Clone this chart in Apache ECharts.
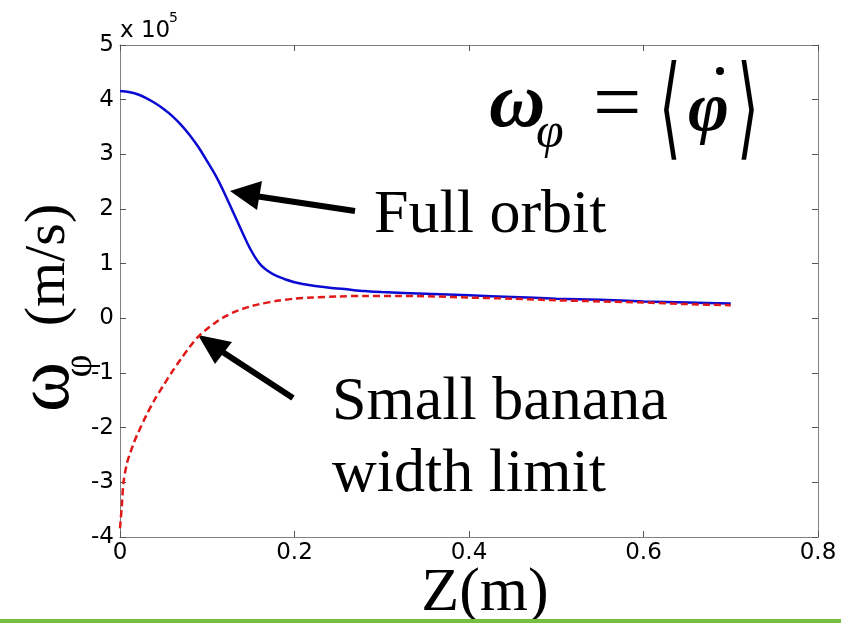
<!DOCTYPE html>
<html>
<head>
<meta charset="utf-8">
<script src="https://cdn.jsdelivr.net/npm/echarts@6/dist/echarts.min.js"></script>
<style>
html,body{margin:0;padding:0;background:#fff;}
#chart{width:841px;height:623px;}
</style>
</head>
<body>
<div id="chart"></div>
<script>
// Full orbit curve (blue)
const zFull = [0, 0.01, 0.02, 0.03, 0.04, 0.05, 0.06, 0.07, 0.08, 0.09, 0.10, 0.11, 0.12, 0.13, 0.14, 0.15, 0.16, 0.17, 0.18, 0.19, 0.20, 0.22, 0.24, 0.26, 0.28, 0.30, 0.35, 0.40, 0.45, 0.50, 0.55, 0.60, 0.65, 0.70];
const omegaFull = [4.16, 4.14, 4.10, 4.03, 3.94, 3.83, 3.70, 3.54, 3.35, 3.13, 2.87, 2.60, 2.28, 1.93, 1.58, 1.25, 1.00, 0.86, 0.77, 0.71, 0.66, 0.60, 0.56, 0.53, 0.50, 0.48, 0.45, 0.42, 0.39, 0.36, 0.34, 0.31, 0.29, 0.27];
// Small banana width limit (red dashed)
const zSmall = [0, 0.002, 0.004, 0.008, 0.012, 0.016, 0.02, 0.03, 0.04, 0.05, 0.06, 0.07, 0.08, 0.09, 0.10, 0.11, 0.12, 0.13, 0.14, 0.15, 0.16, 0.18, 0.20, 0.22, 0.25, 0.28, 0.32, 0.36, 0.40, 0.45, 0.50, 0.55, 0.60, 0.65, 0.70];
const omegaSmall = [-3.84, -3.45, -3.0, -2.65, -2.45, -2.27, -2.12, -1.78, -1.48, -1.22, -0.97, -0.74, -0.52, -0.33, -0.19, -0.07, 0.03, 0.11, 0.17, 0.22, 0.26, 0.32, 0.36, 0.38, 0.40, 0.41, 0.41, 0.40, 0.38, 0.36, 0.33, 0.31, 0.29, 0.26, 0.24];
// Axis ticks
const xTicks = [0, 0.2, 0.4, 0.6, 0.8];
const yTicks = [-4, -3, -2, -1, 0, 1, 2, 3, 4, 5];

const chart = echarts.init(document.getElementById('chart'), null, {renderer: 'canvas'});
const axisGray = '#808080';
const tickFont = 'DejaVu Sans';

const option = {
  backgroundColor: '#ffffff',
  animation: false,
  grid: {left: 120, right: 23, top: 45, bottom: 86, containLabel: false, outerBoundsMode: 'none'},
  xAxis: [
    {type: 'value', min: xTicks[0], max: xTicks[xTicks.length - 1], interval: 0.2, position: 'bottom',
     axisLine: {show: true, onZero: false, lineStyle: {color: axisGray, width: 1}},
     axisTick: {show: true, inside: true, length: 6, lineStyle: {color: '#555'}},
     axisLabel: {color: '#000', fontFamily: tickFont, fontSize: 23, margin: 5},
     splitLine: {show: false}},
    {type: 'value', min: xTicks[0], max: xTicks[xTicks.length - 1], interval: 0.2, position: 'top',
     axisLine: {show: true, onZero: false, lineStyle: {color: axisGray, width: 1}},
     axisTick: {show: true, inside: true, length: 6, lineStyle: {color: '#555'}},
     axisLabel: {show: false}, splitLine: {show: false}}
  ],
  yAxis: [
    {type: 'value', min: yTicks[0], max: yTicks[yTicks.length - 1], interval: 1, position: 'left',
     axisLine: {show: true, onZero: false, lineStyle: {color: axisGray, width: 1}},
     axisTick: {show: true, inside: true, length: 6, lineStyle: {color: '#555'}},
     axisLabel: {color: '#000', fontFamily: tickFont, fontSize: 23, margin: 6},
     splitLine: {show: false}},
    {type: 'value', min: yTicks[0], max: yTicks[yTicks.length - 1], interval: 1, position: 'right',
     axisLine: {show: true, onZero: false, lineStyle: {color: axisGray, width: 1}},
     axisTick: {show: true, inside: true, length: 6, lineStyle: {color: '#555'}},
     axisLabel: {show: false}, splitLine: {show: false}}
  ],
  series: [
    {name: 'Full orbit', type: 'line', xAxisIndex: 0, yAxisIndex: 0, showSymbol: false, smooth: 0.3,
     data: zFull.map((z, i) => [z, omegaFull[i]]),
     lineStyle: {color: '#0a0ad2', width: 2.5}},
    {name: 'Small banana width limit', type: 'line', xAxisIndex: 0, yAxisIndex: 0, showSymbol: false, smooth: 0.3,
     data: zSmall.map((z, i) => [z, omegaSmall[i]]),
     lineStyle: {color: '#e01818', width: 2.5, type: [7, 4]}}
  ],
  graphic: [
    // x 10^5 multiplier
    {type: 'text', x: 120, y: 31, style: {text: 'x 10', font: '23px "DejaVu Sans"', fill: '#000', align: 'left', verticalAlign: 'middle'}},
    {type: 'text', x: 169, y: 18, style: {text: '5', font: '14px "DejaVu Sans"', fill: '#000', align: 'left', verticalAlign: 'middle'}},
    // y axis label (rotated)
    {type: 'text', x: 49, y: 265, rotation: Math.PI / 2,
     style: {text: '(m/s)', font: '58px "Liberation Serif"', fill: '#000', align: 'center', verticalAlign: 'middle'}},
    {type: 'text', x: 48, y: 387, rotation: Math.PI / 2,
     style: {text: 'ω', font: '76px "Liberation Serif"', fill: '#000', align: 'center', verticalAlign: 'middle'}},
    {type: 'text', x: 80, y: 366, rotation: Math.PI / 2,
     style: {text: 'φ', font: '40px "Liberation Serif"', fill: '#000', align: 'center', verticalAlign: 'middle'}},
    // x axis label
    {type: 'text', x: 485, y: 594,
     style: {text: 'Z(m)', font: '62px "Liberation Serif"', fill: '#000', align: 'center', verticalAlign: 'middle'}},
    // annotations
    {type: 'text', x: 374, y: 216,
     style: {text: 'Full orbit', font: '62px "Liberation Serif"', fill: '#000', align: 'left', verticalAlign: 'middle'}},
    {type: 'text', x: 332, y: 403,
     style: {text: 'Small banana', font: '62px "Liberation Serif"', fill: '#000', align: 'left', verticalAlign: 'middle'}},
    {type: 'text', x: 332, y: 475,
     style: {text: 'width limit', font: '62px "Liberation Serif"', fill: '#000', align: 'left', verticalAlign: 'middle'}},
    // formula
    {type: 'text', x: 489, y: 106,
     style: {text: 'ω', font: 'italic bold 78px "Liberation Serif"', fill: '#000', align: 'left', verticalAlign: 'middle'}},
    {type: 'text', x: 536, y: 134,
     style: {text: 'φ', font: 'italic 50px "Liberation Serif"', fill: '#000', align: 'left', verticalAlign: 'middle'}},
    {type: 'text', x: 593, y: 108,
     style: {text: '=', font: '86px "Liberation Serif"', fill: '#000', align: 'left', verticalAlign: 'middle'}},
    {type: 'text', x: 670, y: 116, scaleX: 0.5,
     style: {text: '⟨', font: '112px "DejaVu Sans"', fill: '#000', align: 'center', verticalAlign: 'middle'}},
    {type: 'text', x: 688, y: 112,
     style: {text: 'φ', font: 'italic bold 70px "Liberation Serif"', fill: '#000', align: 'left', verticalAlign: 'middle'}},
    {type: 'circle', shape: {cx: 720, cy: 71, r: 4}, style: {fill: '#000'}},
    {type: 'text', x: 748, y: 116, scaleX: 0.5,
     style: {text: '⟩', font: '112px "DejaVu Sans"', fill: '#000', align: 'center', verticalAlign: 'middle'}},
    // arrows
    {type: 'line', shape: {x1: 355, y1: 211, x2: 255, y2: 196}, style: {stroke: '#000', lineWidth: 6}},
    {type: 'polygon', shape: {points: [[230, 191], [262, 181], [257, 210]]}, style: {fill: '#000'}},
    {type: 'line', shape: {x1: 293, y1: 398, x2: 218, y2: 349}, style: {stroke: '#000', lineWidth: 6}},
    {type: 'polygon', shape: {points: [[198, 335], [232, 342], [215, 364]]}, style: {fill: '#000'}},
    // green bottom band
    {type: 'rect', shape: {x: 0, y: 619, width: 841, height: 4}, style: {fill: '#74c043'}, z: 100}
  ]
};
chart.setOption(option);
</script>
</body>
</html>
